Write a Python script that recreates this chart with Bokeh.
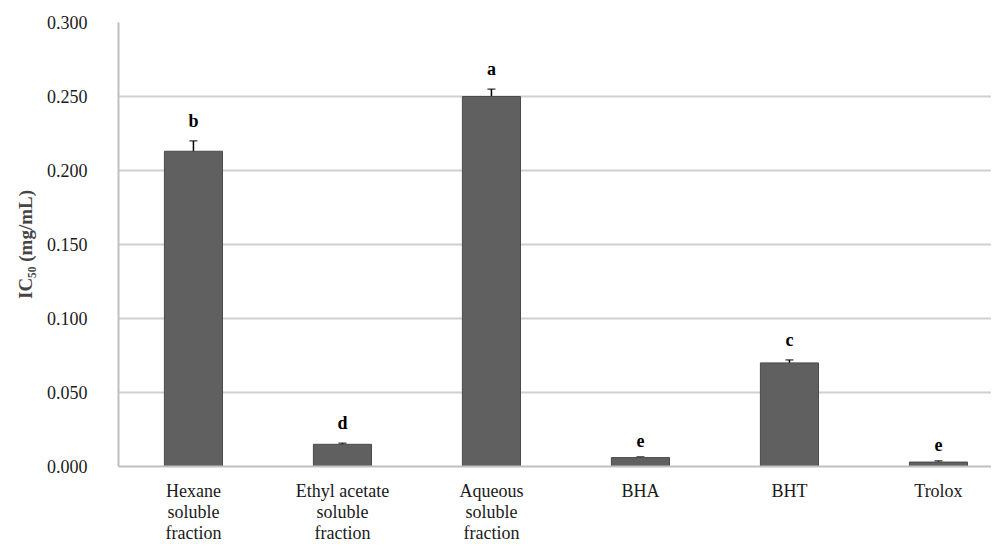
from bokeh.plotting import figure
from bokeh.models import ColumnDataSource, Range1d, Whisker, FixedTicker
from bokeh.embed import file_html
from bokeh.resources import INLINE
from bokeh.core.properties import value

categories = ["Hexane\nsoluble\nfraction", "Ethyl acetate\nsoluble\nfraction",
              "Aqueous\nsoluble\nfraction", "BHA", "BHT", "Trolox"]
ic50 = [0.213, 0.015, 0.250, 0.006, 0.070, 0.003]
err = [0.007, 0.0008, 0.005, 0.0005, 0.002, 0.0008]
letters = ["b", "d", "a", "e", "c", "e"]
y_ticks = [0.0, 0.05, 0.10, 0.15, 0.20, 0.25, 0.30]

xs = list(range(len(categories)))
src = ColumnDataSource(dict(
    x=xs, y=ic50,
    upper=[v + e for v, e in zip(ic50, err)],
    lower=[v - e for v, e in zip(ic50, err)],
    ly=[v + e + 0.007 for v, e in zip(ic50, err)],
    lab=letters,
))

SERIF = "'Liberation Serif', 'Times New Roman', serif"

p = figure(width=991, height=548, output_backend="svg", toolbar_location=None,
           x_range=Range1d(-0.503, 5.356), y_range=Range1d(0, 0.300),
           min_border_left=118, min_border_right=0, min_border_top=22, min_border_bottom=82)
p.outline_line_color = None
p.background_fill_color = "white"

p.vbar(x="x", top="y", width=0.39, source=src, fill_color="#606060", line_color="#4a4a4a", line_width=1)
w = Whisker(source=src, base="x", upper="upper", lower="lower", line_color="black", line_width=1.5)
w.upper_head.size = 8
w.lower_head.size = 8
w.upper_head.line_color = "black"
w.lower_head.line_color = "black"
p.add_layout(w)
p.text(x="x", y="ly", text="lab", source=src, text_align="center", text_baseline="bottom",
       text_font=value(SERIF), text_font_style="bold", text_font_size="18px", text_color="black")

p.xgrid.grid_line_color = None
p.ygrid.grid_line_color = "#d0d0d0"
p.ygrid.grid_line_width = 2
p.yaxis.ticker = FixedTicker(ticks=y_ticks)
p.yaxis.major_label_overrides = {t: f"{t:.3f}" for t in y_ticks}
p.xaxis.ticker = FixedTicker(ticks=xs)
p.xaxis.major_label_overrides = {i: c for i, c in enumerate(categories)}

p.xaxis.axis_line_color = "#c0c0c0"
p.yaxis.axis_line_color = "#c0c0c0"
p.xaxis.axis_line_width = 2
p.yaxis.axis_line_width = 2
p.xaxis.major_tick_line_color = None
p.yaxis.major_tick_line_color = None
p.xaxis.minor_tick_line_color = None
p.yaxis.minor_tick_line_color = None
p.xaxis.major_label_text_font = SERIF
p.yaxis.major_label_text_font = SERIF
p.xaxis.major_label_text_font_size = "18px"
p.yaxis.major_label_text_font_size = "18px"
p.xaxis.major_label_text_color = "#1a1a1a"
p.yaxis.major_label_text_color = "#1a1a1a"
p.xaxis.major_label_text_line_height = 1.05

p.yaxis.major_label_standoff = 25
p.xaxis.major_label_standoff = 8
p.yaxis.axis_label = "IC₅₀ (mg/mL)"
p.yaxis.axis_label_text_font = SERIF
p.yaxis.axis_label_text_font_style = "bold"
p.yaxis.axis_label_text_font_size = "19px"
p.yaxis.axis_label_standoff = 8

open("out.html", "w").write(file_html(p, INLINE))
